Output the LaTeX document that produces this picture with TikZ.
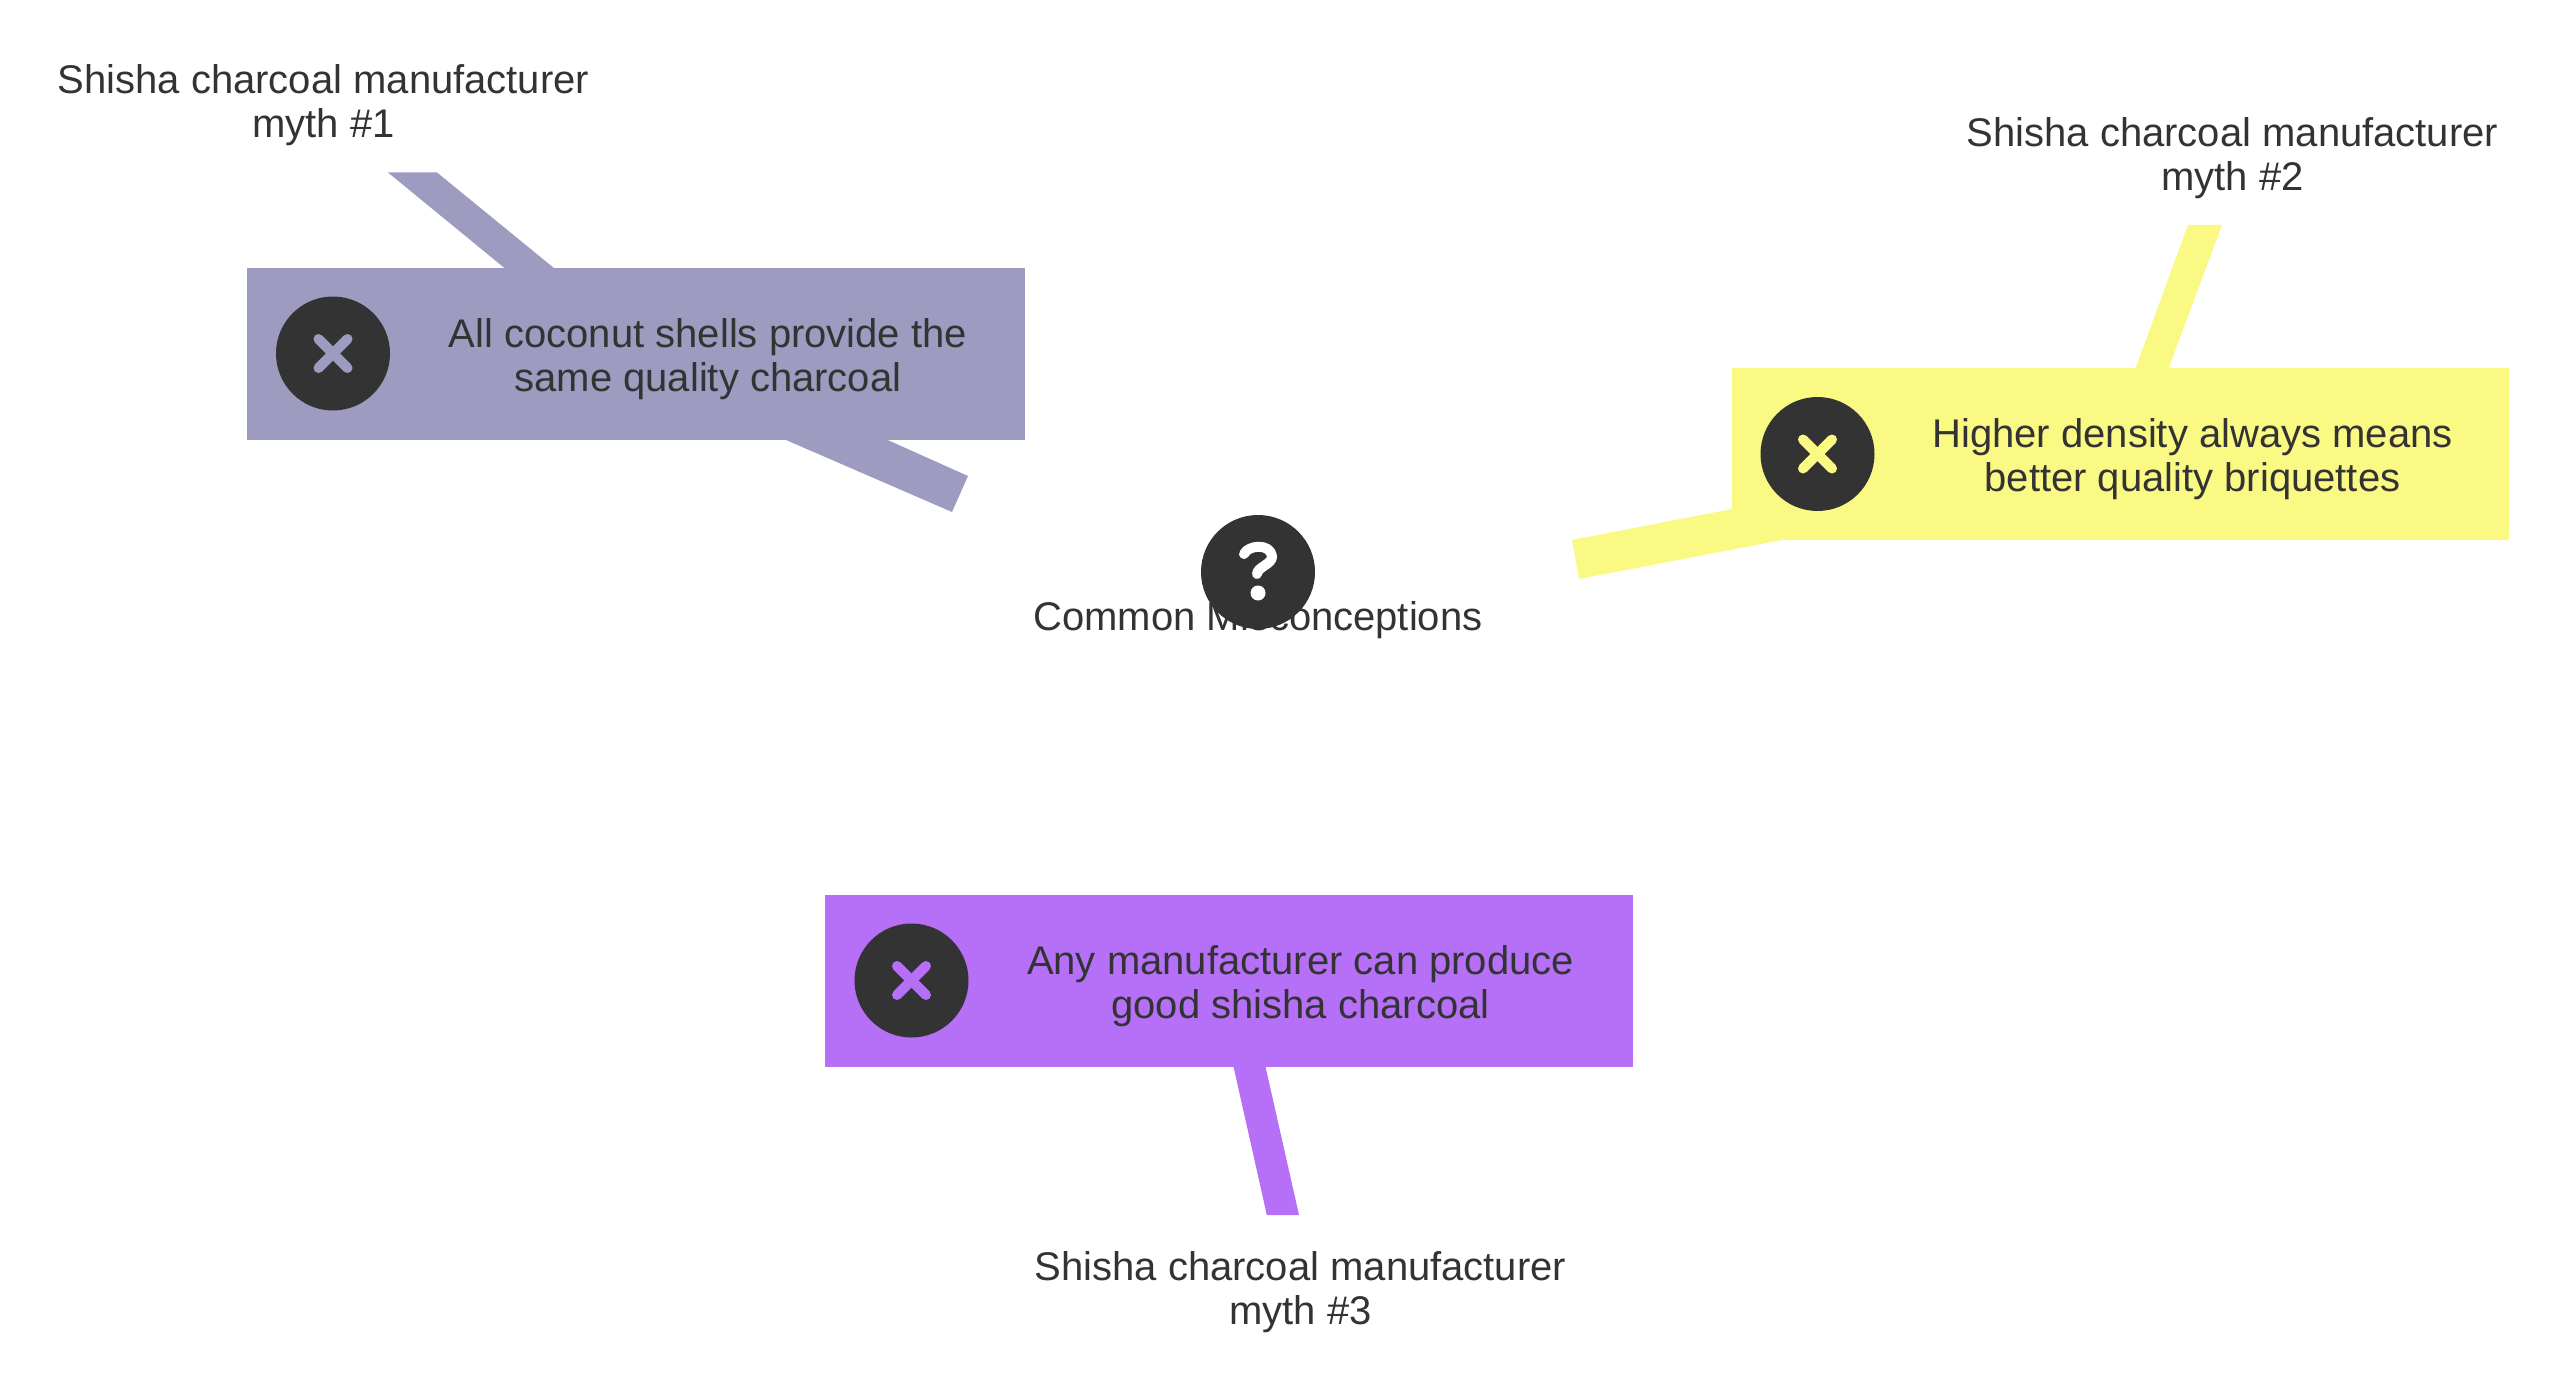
\documentclass[tikz,border=0pt]{standalone}
\usepackage{fontspec}
\setmainfont{Liberation Sans}
\definecolor{ink}{HTML}{333333}
\definecolor{slate}{HTML}{9D9BBF}
\definecolor{lemon}{HTML}{F9F984}
\definecolor{violet}{HTML}{B570F7}
\tikzset{
  lbl/.style={text=ink,align=center,inner sep=0pt,font=\fontsize{40}{44}\selectfont},
  iconcircle/.style={circle,fill=ink,minimum size=114pt,inner sep=0pt},
  xmark/.style={line width=10pt,line cap=round},
  qmark/.style={line width=10pt,line cap=round,line join=round,white},
  panel/.style={inner sep=0pt,anchor=north west},
}
\newcommand{\crossmark}[2]{%
  \draw[xmark,#2] ([shift={(-14.5,14.5)}]#1.center) -- ([shift={(14.5,-14.5)}]#1.center);
  \draw[xmark,#2] ([shift={(-14.5,-14.5)}]#1.center) -- ([shift={(14.5,14.5)}]#1.center);}
\begin{document}
\begin{tikzpicture}[x=1pt,y=-1pt]
\useasboundingbox (0,0) rectangle (2560,1391);
% connector ends
\coordinate (a1) at (388,172.5); \coordinate (a2) at (437,172.5);
\coordinate (a3) at (562.5,275); \coordinate (a4) at (513,275);
\coordinate (a5) at (774.5,435); \coordinate (a6) at (876.5,435);
\coordinate (a7) at (968,476); \coordinate (a8) at (952,512);
\coordinate (b1) at (2188,225); \coordinate (b2) at (2222,225);
\coordinate (b3) at (2165,378); \coordinate (b4) at (2132,378);
\coordinate (b5) at (1745,506.5); \coordinate (b6) at (1795,537.5);
\coordinate (b7) at (1579,579); \coordinate (b8) at (1572,540);
\coordinate (c1) at (1232,1060); \coordinate (c2) at (1264,1060);
\coordinate (c3) at (1299,1215); \coordinate (c4) at (1266.8,1215);
\fill[slate] (a1) -- (a2) -- (a3) -- (a4) -- cycle;
\fill[slate] (a5) -- (a6) -- (a7) -- (a8) -- cycle;
\fill[lemon] (b1) -- (b2) -- (b3) -- (b4) -- cycle;
\fill[lemon] (b5) -- (b6) -- (b7) -- (b8) -- cycle;
\fill[violet] (c1) -- (c2) -- (c3) -- (c4) -- cycle;
% panels
\node[panel,fill=slate,minimum width=778pt,minimum height=172pt] (p1) at (247,268) {};
\node[panel,fill=lemon,minimum width=777pt,minimum height=172pt] (p2) at (1732,368) {};
\node[panel,fill=violet,minimum width=807.5pt,minimum height=172pt] (p3) at (825,895) {};
% texts
\node[lbl] (t0) at (1258,620) {Common Misconceptions};
\node[lbl] (t1) at (708,359.5) {All coconut shells provide the\\same quality charcoal};
\node[lbl] (t2) at (2192.5,459.5) {Higher density always means\\better quality briquettes};
\node[lbl] (t3) at (1300.5,986) {Any manufacturer can produce\\good shisha charcoal};
\node[lbl] (l1) at (323.5,105) {Shisha charcoal manufacturer\\myth \#1};
\node[lbl] (l2) at (2232.5,158) {Shisha charcoal manufacturer\\myth \#2};
\node[lbl] (l3) at (1300.5,1292.5) {Shisha charcoal manufacturer\\myth \#3};
% icons
\node[iconcircle] (i0) at (1258,572) {};
\draw[qmark] ([shift={(-14,-18)}]i0.center) .. controls ([shift={(-10,-27)}]i0.center) and ([shift={(12,-29)}]i0.center) .. ([shift={(14,-16)}]i0.center) .. controls ([shift={(15,-8)}]i0.center) and ([shift={(-1,-5)}]i0.center) .. ([shift={(-1,2)}]i0.center);
\fill[white] ([shift={(0,21)}]i0.center) circle (7.5pt);
\node[iconcircle] (i1) at (333,353.5) {};
\crossmark{i1}{slate}
\node[iconcircle] (i2) at (1817.5,454) {};
\crossmark{i2}{lemon}
\node[iconcircle] (i3) at (911.5,980.5) {};
\crossmark{i3}{violet}
\end{tikzpicture}
\end{document}
